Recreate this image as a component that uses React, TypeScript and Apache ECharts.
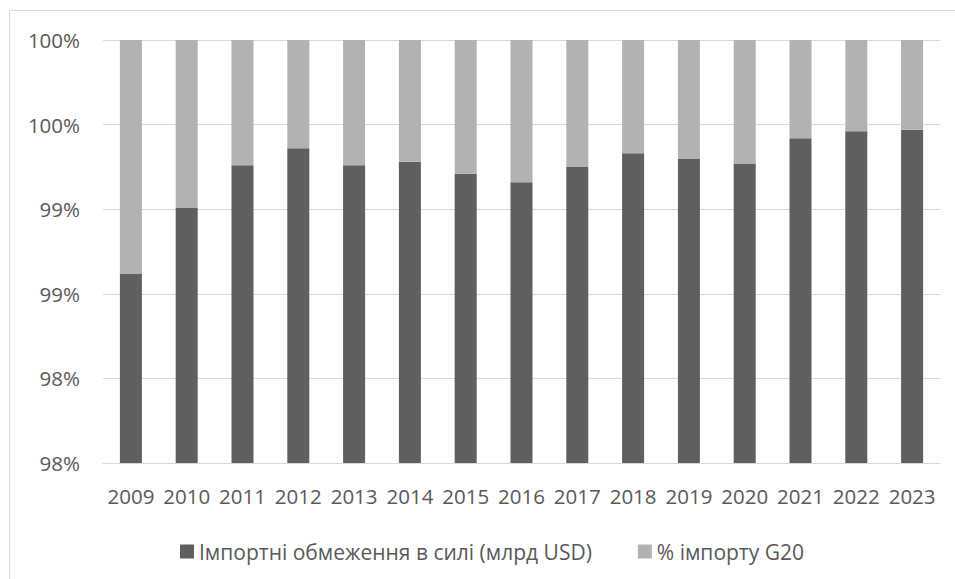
import React, { useEffect, useRef } from "react";
import * as echarts from "echarts";

const years = ["2009", "2010", "2011", "2012", "2013", "2014", "2015", "2016", "2017", "2018", "2019", "2020", "2021", "2022", "2023"];
const importRestrictions = [98.62, 99.01, 99.26, 99.36, 99.26, 99.28, 99.21, 99.16, 99.25, 99.33, 99.30, 99.27, 99.42, 99.46, 99.47];
const g20ImportShare = [1.38, 0.99, 0.74, 0.64, 0.74, 0.72, 0.79, 0.84, 0.75, 0.67, 0.70, 0.73, 0.58, 0.54, 0.53];
const seriesNames = ["Імпортні обмеження в силі (млрд USD)", "% імпорту G20"];

const FONT = "'Open Sans', 'Noto Sans', sans-serif";
const TEXT = "#595959";

export default function App() {
  const ref = useRef<HTMLDivElement>(null);
  useEffect(() => {
    if (!ref.current) return;
    const chart = echarts.init(ref.current, undefined, { renderer: "svg" });
    chart.setOption({
      animation: false,
      backgroundColor: "#ffffff",
      textStyle: { fontFamily: FONT },
      graphic: [
        {
          type: "rect",
          shape: { x: 9.5, y: 10.5, width: 1000, height: 700 },
          style: { fill: "none", stroke: "#d9d9d9", lineWidth: 1 },
          silent: true,
        },
      ],
      grid: { left: 103, right: 15, top: 40, bottom: 116 },
      legend: {
        top: 536,
        left: 175,
        icon: "rect",
        itemWidth: 14,
        itemHeight: 14,
        itemGap: 46,
        textStyle: { color: TEXT, fontSize: 21, fontFamily: FONT },
        data: seriesNames,
      },
      xAxis: {
        type: "category",
        data: years,
        axisLine: { lineStyle: { color: "#d9d9d9" } },
        axisTick: { show: false },
        axisLabel: { color: TEXT, fontSize: 20.5, fontFamily: FONT, margin: 22, interval: 0 },
      },
      yAxis: {
        type: "value",
        min: 97.5,
        max: 100,
        interval: 0.5,
        axisLine: { show: false },
        axisTick: { show: false },
        splitLine: { lineStyle: { color: "#d9d9d9" } },
        axisLabel: {
          color: TEXT,
          fontSize: 20.5,
          fontFamily: FONT,
          margin: 23,
          formatter: (v: number) => Math.round(v) + "%",
        },
      },
      series: [
        {
          name: seriesNames[0],
          type: "bar",
          stack: "total",
          data: importRestrictions,
          barWidth: 22,
          clip: true,
          itemStyle: { color: "#5f5f5f" },
        },
        {
          name: seriesNames[1],
          type: "bar",
          stack: "total",
          data: g20ImportShare,
          barWidth: 22,
          clip: true,
          itemStyle: { color: "#b2b2b2" },
        },
      ],
    });
    return () => chart.dispose();
  }, []);
  return <div ref={ref} style={{ position: "fixed", left: 0, top: 0, width: 955, height: 579 }} />;
}
